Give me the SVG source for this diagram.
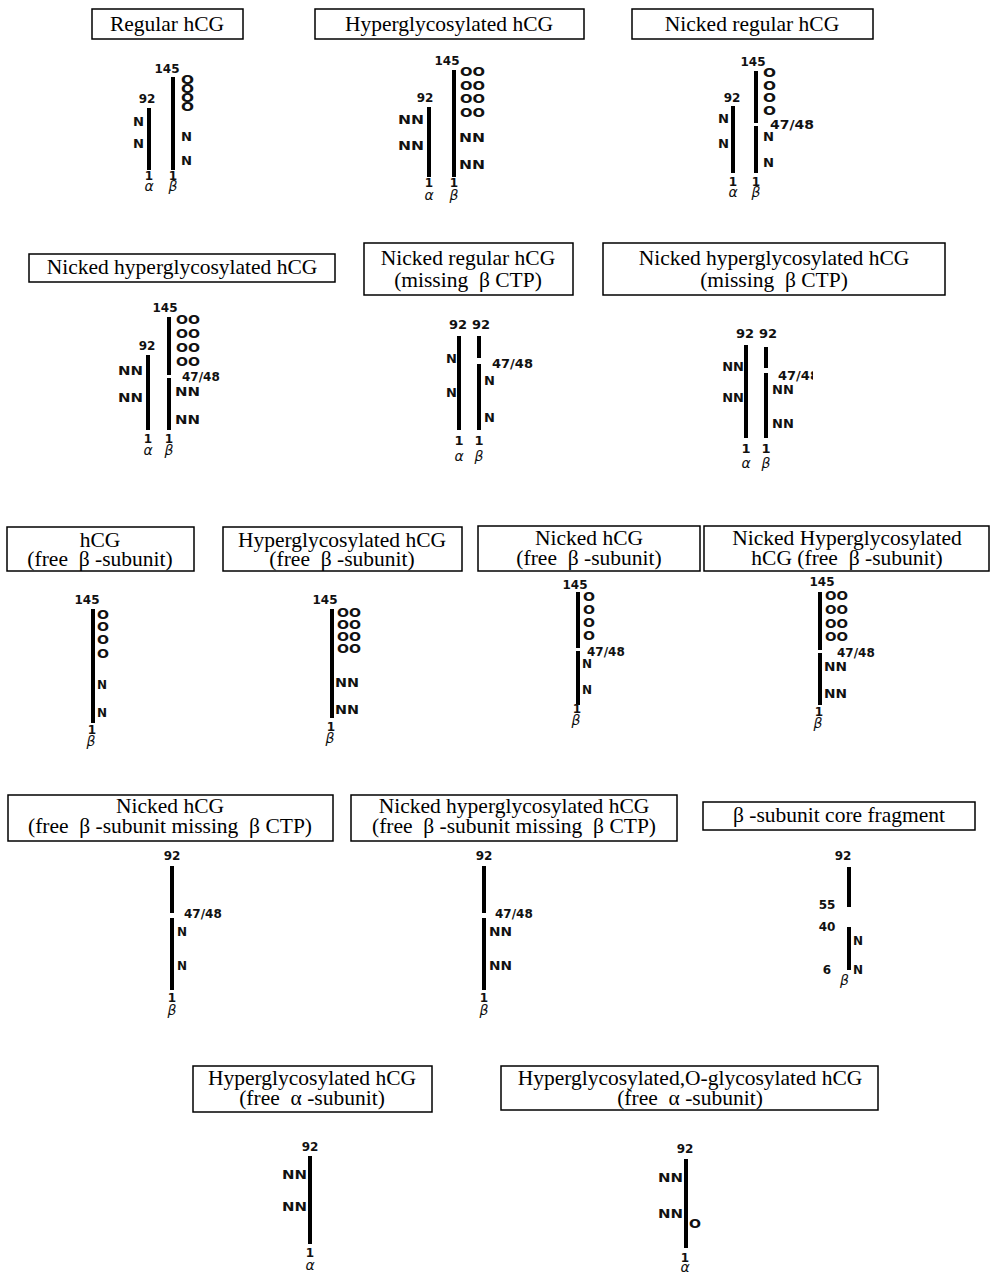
<svg xmlns="http://www.w3.org/2000/svg" width="990" height="1274" viewBox="0 0 990 1274">
<style>
.box{fill:#fff;stroke:#000;stroke-width:1.5}
.t{font-family:"Liberation Serif","Times New Roman",serif;font-size:21.5px;text-anchor:middle;fill:#000;white-space:pre}
.ch{stroke:#000;stroke-width:4;fill:none}
.l{font-family:"DejaVu Sans",sans-serif;font-size:12px;font-weight:bold;fill:#111}
.c{text-anchor:middle}
.e{text-anchor:end}
.gs{font-style:italic;font-weight:normal;font-size:14px}
.b{font-size:13px}
</style>
<defs>
<clipPath id="clip6"><rect x="600" y="360" width="213" height="30"/></clipPath>
</defs>
<rect width="990" height="1274" fill="#fff"/>

<g id="regular-hcg">
<rect class="box" x="92" y="9" width="151" height="30"/>
<text class="t" x="167" y="31">Regular hCG</text>
<line class="ch" x1="149" y1="108" x2="149" y2="170"/>
<line class="ch" x1="173" y1="77" x2="173" y2="170"/>
<text class="l c" x="167" y="73">145</text>
<text class="l c" x="147" y="103">92</text>
<text class="l" x="181" y="84"><tspan textLength="13" lengthAdjust="spacingAndGlyphs">O</tspan><tspan x="181" dy="9" textLength="13" lengthAdjust="spacingAndGlyphs">O</tspan><tspan x="181" dy="9" textLength="13" lengthAdjust="spacingAndGlyphs">O</tspan><tspan x="181" dy="9" textLength="13" lengthAdjust="spacingAndGlyphs">O</tspan></text>
<text class="l" x="181" y="141" textLength="11" lengthAdjust="spacingAndGlyphs">N</text>
<text class="l" x="181" y="165" textLength="11" lengthAdjust="spacingAndGlyphs">N</text>
<text class="l e" x="144" y="126" textLength="11" lengthAdjust="spacingAndGlyphs">N</text>
<text class="l e" x="144" y="148" textLength="11" lengthAdjust="spacingAndGlyphs">N</text>
<text class="l c" x="149" y="180">1<tspan class="gs" x="149" dy="11">α</tspan></text>
<text class="l c" x="173" y="180">1<tspan class="gs" x="173" dy="11">β</tspan></text>
</g>

<g id="hyperglycosylated-hcg">
<rect class="box" x="315" y="9" width="269" height="30"/>
<text class="t" x="449" y="31">Hyperglycosylated hCG</text>
<line class="ch" x1="429" y1="107" x2="429" y2="177"/>
<line class="ch" x1="454" y1="70" x2="454" y2="177"/>
<text class="l c" x="447" y="65">145</text>
<text class="l c" x="425" y="102">92</text>
<text class="l" x="460" y="76"><tspan textLength="25" lengthAdjust="spacingAndGlyphs">OO</tspan><tspan x="460" dy="14" textLength="25" lengthAdjust="spacingAndGlyphs">OO</tspan><tspan x="460" dy="13" textLength="25" lengthAdjust="spacingAndGlyphs">OO</tspan><tspan x="460" dy="14" textLength="25" lengthAdjust="spacingAndGlyphs">OO</tspan></text>
<text class="l" x="459" y="142" textLength="26" lengthAdjust="spacingAndGlyphs">NN</text>
<text class="l" x="459" y="169" textLength="26" lengthAdjust="spacingAndGlyphs">NN</text>
<text class="l e" x="424" y="124" textLength="26" lengthAdjust="spacingAndGlyphs">NN</text>
<text class="l e" x="424" y="150" textLength="26" lengthAdjust="spacingAndGlyphs">NN</text>
<text class="l c" x="429" y="187">1<tspan class="gs" x="429" dy="13">α</tspan></text>
<text class="l c" x="454" y="187">1<tspan class="gs" x="454" dy="13">β</tspan></text>
</g>

<g id="nicked-regular-hcg">
<rect class="box" x="632" y="9" width="241" height="30"/>
<text class="t" x="752" y="31">Nicked regular hCG</text>
<line class="ch" x1="733" y1="106" x2="733" y2="173"/>
<line class="ch" x1="756" y1="71" x2="756" y2="123"/>
<line class="ch" x1="756" y1="126" x2="756" y2="173"/>
<text class="l c" x="753" y="66">145</text>
<text class="l c" x="732" y="102">92</text>
<text class="l" x="763" y="77"><tspan textLength="13" lengthAdjust="spacingAndGlyphs">O</tspan><tspan x="763" dy="13" textLength="13" lengthAdjust="spacingAndGlyphs">O</tspan><tspan x="763" dy="12" textLength="13" lengthAdjust="spacingAndGlyphs">O</tspan><tspan x="763" dy="13" textLength="13" lengthAdjust="spacingAndGlyphs">O</tspan></text>
<text class="l" x="770" y="129" textLength="44" lengthAdjust="spacingAndGlyphs">47/48</text>
<text class="l" x="763" y="141" textLength="11" lengthAdjust="spacingAndGlyphs">N</text>
<text class="l" x="763" y="167" textLength="11" lengthAdjust="spacingAndGlyphs">N</text>
<text class="l e" x="729" y="123" textLength="11" lengthAdjust="spacingAndGlyphs">N</text>
<text class="l e" x="729" y="148" textLength="11" lengthAdjust="spacingAndGlyphs">N</text>
<text class="l c" x="733" y="186">1<tspan class="gs" x="733" dy="11">α</tspan></text>
<text class="l c" x="756" y="186">1<tspan class="gs" x="756" dy="11">β</tspan></text>
</g>

<g id="nicked-hyperglycosylated-hcg">
<rect class="box" x="29" y="254" width="306" height="28"/>
<text class="t" x="182" y="274">Nicked hyperglycosylated hCG</text>
<line class="ch" x1="148" y1="355" x2="148" y2="430"/>
<line class="ch" x1="169" y1="317" x2="169" y2="375"/>
<line class="ch" x1="169" y1="378" x2="169" y2="430"/>
<text class="l c" x="165" y="312">145</text>
<text class="l c" x="147" y="350">92</text>
<text class="l" x="176" y="324"><tspan textLength="24" lengthAdjust="spacingAndGlyphs">OO</tspan><tspan x="176" dy="14" textLength="24" lengthAdjust="spacingAndGlyphs">OO</tspan><tspan x="176" dy="14" textLength="24" lengthAdjust="spacingAndGlyphs">OO</tspan><tspan x="176" dy="14" textLength="24" lengthAdjust="spacingAndGlyphs">OO</tspan></text>
<text class="l" x="182" y="381">47/48</text>
<text class="l" x="175" y="396" textLength="25" lengthAdjust="spacingAndGlyphs">NN</text>
<text class="l" x="175" y="424" textLength="25" lengthAdjust="spacingAndGlyphs">NN</text>
<text class="l e" x="143" y="375" textLength="25" lengthAdjust="spacingAndGlyphs">NN</text>
<text class="l e" x="143" y="402" textLength="25" lengthAdjust="spacingAndGlyphs">NN</text>
<text class="l c" x="148" y="443">1<tspan class="gs" x="148" dy="12">α</tspan></text>
<text class="l c" x="169" y="443">1<tspan class="gs" x="169" dy="12">β</tspan></text>
</g>

<g id="nicked-regular-hcg-missing-ctp">
<rect class="box" x="364" y="243" width="209" height="52"/>
<text class="t" x="468" y="265">Nicked regular hCG</text>
<text class="t" x="468" y="287">(missing  β CTP)</text>
<line class="ch" x1="459" y1="336" x2="459" y2="430"/>
<line class="ch" x1="479" y1="336" x2="479" y2="358"/>
<line class="ch" x1="479" y1="364" x2="479" y2="430"/>
<text class="l c b" x="458" y="329">92</text>
<text class="l c b" x="481" y="329">92</text>
<text class="l b" x="492" y="368">47/48</text>
<text class="l b" x="484" y="385">N</text>
<text class="l b" x="484" y="422">N</text>
<text class="l e b" x="457" y="363">N</text>
<text class="l e b" x="457" y="397">N</text>
<text class="l c b" x="459" y="445">1<tspan class="gs" x="459" dy="16">α</tspan></text>
<text class="l c b" x="479" y="445">1<tspan class="gs" x="479" dy="16">β</tspan></text>
</g>

<g id="nicked-hyperglycosylated-hcg-missing-ctp">
<rect class="box" x="603" y="243" width="342" height="52"/>
<text class="t" x="774" y="265">Nicked hyperglycosylated hCG</text>
<text class="t" x="774" y="287">(missing  β CTP)</text>
<line class="ch" x1="746" y1="345" x2="746" y2="438"/>
<line class="ch" x1="766" y1="347" x2="766" y2="368"/>
<line class="ch" x1="766" y1="373" x2="766" y2="438"/>
<text class="l c b" x="745" y="338">92</text>
<text class="l c b" x="768" y="338">92</text>
<text class="l b" x="778" y="380" clip-path="url(#clip6)">47/48</text>
<text class="l b" x="772" y="394">NN</text>
<text class="l b" x="772" y="428">NN</text>
<text class="l e b" x="744" y="371">NN</text>
<text class="l e b" x="744" y="402">NN</text>
<text class="l c b" x="746" y="453">1<tspan class="gs" x="746" dy="15">α</tspan></text>
<text class="l c b" x="766" y="453">1<tspan class="gs" x="766" dy="15">β</tspan></text>
</g>

<g id="hcg-free-beta">
<rect class="box" x="7" y="527" width="187" height="44"/>
<text class="t" x="100" y="547">hCG</text>
<text class="t" x="100" y="566">(free  β -subunit)</text>
<line class="ch" x1="93" y1="609" x2="93" y2="723"/>
<text class="l c" x="87" y="604">145</text>
<text class="l" x="97" y="619"><tspan textLength="12" lengthAdjust="spacingAndGlyphs">O</tspan><tspan x="97" dy="12" textLength="12" lengthAdjust="spacingAndGlyphs">O</tspan><tspan x="97" dy="13" textLength="12" lengthAdjust="spacingAndGlyphs">O</tspan><tspan x="97" dy="14" textLength="12" lengthAdjust="spacingAndGlyphs">O</tspan></text>
<text class="l" x="97" y="689">N</text>
<text class="l" x="97" y="717">N</text>
<text class="l c" x="92" y="734">1<tspan class="gs" x="91" dy="12">β</tspan></text>
</g>

<g id="hyperglycosylated-hcg-free-beta">
<rect class="box" x="223" y="527" width="239" height="44"/>
<text class="t" x="342" y="547">Hyperglycosylated hCG</text>
<text class="t" x="342" y="566">(free  β -subunit)</text>
<line class="ch" x1="332" y1="609" x2="332" y2="718"/>
<text class="l c" x="325" y="604">145</text>
<text class="l" x="337" y="617"><tspan textLength="24" lengthAdjust="spacingAndGlyphs">OO</tspan><tspan x="337" dy="12" textLength="24" lengthAdjust="spacingAndGlyphs">OO</tspan><tspan x="337" dy="12" textLength="24" lengthAdjust="spacingAndGlyphs">OO</tspan><tspan x="337" dy="12" textLength="24" lengthAdjust="spacingAndGlyphs">OO</tspan></text>
<text class="l" x="335" y="687" textLength="24" lengthAdjust="spacingAndGlyphs">NN</text>
<text class="l" x="335" y="714" textLength="24" lengthAdjust="spacingAndGlyphs">NN</text>
<text class="l c" x="331" y="731">1<tspan class="gs" x="330" dy="12">β</tspan></text>
</g>

<g id="nicked-hcg-free-beta">
<rect class="box" x="478" y="526" width="222" height="45"/>
<text class="t" x="589" y="545">Nicked hCG</text>
<text class="t" x="589" y="565">(free  β -subunit)</text>
<line class="ch" x1="578" y1="592" x2="578" y2="648"/>
<line class="ch" x1="578" y1="651" x2="578" y2="705"/>
<text class="l c" x="575" y="589">145</text>
<text class="l" x="583" y="601"><tspan textLength="12" lengthAdjust="spacingAndGlyphs">O</tspan><tspan x="583" dy="13" textLength="12" lengthAdjust="spacingAndGlyphs">O</tspan><tspan x="583" dy="13" textLength="12" lengthAdjust="spacingAndGlyphs">O</tspan><tspan x="583" dy="13" textLength="12" lengthAdjust="spacingAndGlyphs">O</tspan></text>
<text class="l" x="587" y="656">47/48</text>
<text class="l" x="582" y="668">N</text>
<text class="l" x="582" y="694">N</text>
<text class="l c" x="577" y="713">1<tspan class="gs" x="576" dy="12">β</tspan></text>
</g>

<g id="nicked-hyperglycosylated-hcg-free-beta">
<rect class="box" x="704" y="526" width="285" height="45"/>
<text class="t" x="847" y="545">Nicked Hyperglycosylated</text>
<text class="t" x="847" y="565">hCG (free  β -subunit)</text>
<line class="ch" x1="820" y1="592" x2="820" y2="650"/>
<line class="ch" x1="820" y1="653" x2="820" y2="705"/>
<text class="l c" x="822" y="586">145</text>
<text class="l" x="825" y="600"><tspan textLength="23" lengthAdjust="spacingAndGlyphs">OO</tspan><tspan x="825" dy="14" textLength="23" lengthAdjust="spacingAndGlyphs">OO</tspan><tspan x="825" dy="14" textLength="23" lengthAdjust="spacingAndGlyphs">OO</tspan><tspan x="825" dy="13" textLength="23" lengthAdjust="spacingAndGlyphs">OO</tspan></text>
<text class="l" x="837" y="657">47/48</text>
<text class="l" x="824" y="671" textLength="23" lengthAdjust="spacingAndGlyphs">NN</text>
<text class="l" x="824" y="698" textLength="23" lengthAdjust="spacingAndGlyphs">NN</text>
<text class="l c" x="819" y="716">1<tspan class="gs" x="818" dy="12">β</tspan></text>
</g>

<g id="nicked-hcg-free-beta-missing-ctp">
<rect class="box" x="8" y="795" width="325" height="46"/>
<text class="t" x="170" y="813">Nicked hCG</text>
<text class="t" x="170" y="833">(free  β -subunit missing  β CTP)</text>
<line class="ch" x1="172" y1="866" x2="172" y2="913"/>
<line class="ch" x1="172" y1="918" x2="172" y2="990"/>
<text class="l c" x="172" y="860">92</text>
<text class="l" x="184" y="918">47/48</text>
<text class="l" x="177" y="936">N</text>
<text class="l" x="177" y="970">N</text>
<text class="l c" x="172" y="1002">1<tspan class="gs" x="172" dy="13">β</tspan></text>
</g>

<g id="nicked-hyperglycosylated-hcg-free-beta-missing-ctp">
<rect class="box" x="351" y="795" width="326" height="46"/>
<text class="t" x="514" y="813">Nicked hyperglycosylated hCG</text>
<text class="t" x="514" y="833">(free  β -subunit missing  β CTP)</text>
<line class="ch" x1="484" y1="866" x2="484" y2="913"/>
<line class="ch" x1="484" y1="918" x2="484" y2="990"/>
<text class="l c" x="484" y="860">92</text>
<text class="l" x="495" y="918">47/48</text>
<text class="l" x="489" y="936" textLength="23" lengthAdjust="spacingAndGlyphs">NN</text>
<text class="l" x="489" y="970" textLength="23" lengthAdjust="spacingAndGlyphs">NN</text>
<text class="l c" x="484" y="1002">1<tspan class="gs" x="484" dy="13">β</tspan></text>
</g>

<g id="beta-core-fragment">
<rect class="box" x="703" y="802" width="272" height="28"/>
<text class="t" x="839" y="822">β -subunit core fragment</text>
<line class="ch" x1="849" y1="867" x2="849" y2="907"/>
<line class="ch" x1="849" y1="927" x2="849" y2="970"/>
<text class="l c" x="843" y="860">92</text>
<text class="l c" x="827" y="909">55</text>
<text class="l c" x="827" y="931">40</text>
<text class="l" x="853" y="945">N</text>
<text class="l" x="853" y="974">N<tspan class="gs" x="840" dy="11">β</tspan></text>
<text class="l c" x="827" y="974">6</text>
</g>

<g id="hyperglycosylated-hcg-free-alpha">
<rect class="box" x="193" y="1066" width="239" height="46"/>
<text class="t" x="312" y="1085">Hyperglycosylated hCG</text>
<text class="t" x="312" y="1105">(free  α -subunit)</text>
<line class="ch" x1="310" y1="1156" x2="310" y2="1244"/>
<text class="l c" x="310" y="1151">92</text>
<text class="l e" x="307" y="1179" textLength="25" lengthAdjust="spacingAndGlyphs">NN</text>
<text class="l e" x="307" y="1211" textLength="25" lengthAdjust="spacingAndGlyphs">NN</text>
<text class="l c" x="310" y="1257">1<tspan class="gs" x="310" dy="13">α</tspan></text>
</g>

<g id="hyperglycosylated-o-glycosylated-hcg-free-alpha">
<rect class="box" x="501" y="1066" width="377" height="44"/>
<text class="t" x="690" y="1085">Hyperglycosylated,O-glycosylated hCG</text>
<text class="t" x="690" y="1105">(free  α -subunit)</text>
<line class="ch" x1="686" y1="1159" x2="686" y2="1248"/>
<text class="l c" x="685" y="1153">92</text>
<text class="l e" x="683" y="1182" textLength="25" lengthAdjust="spacingAndGlyphs">NN</text>
<text class="l e" x="683" y="1218" textLength="25" lengthAdjust="spacingAndGlyphs">NN</text>
<text class="l" x="689" y="1228" textLength="12" lengthAdjust="spacingAndGlyphs">O</text>
<text class="l c" x="685" y="1262">1<tspan class="gs" x="685" dy="10">α</tspan></text>
</g>
</svg>
